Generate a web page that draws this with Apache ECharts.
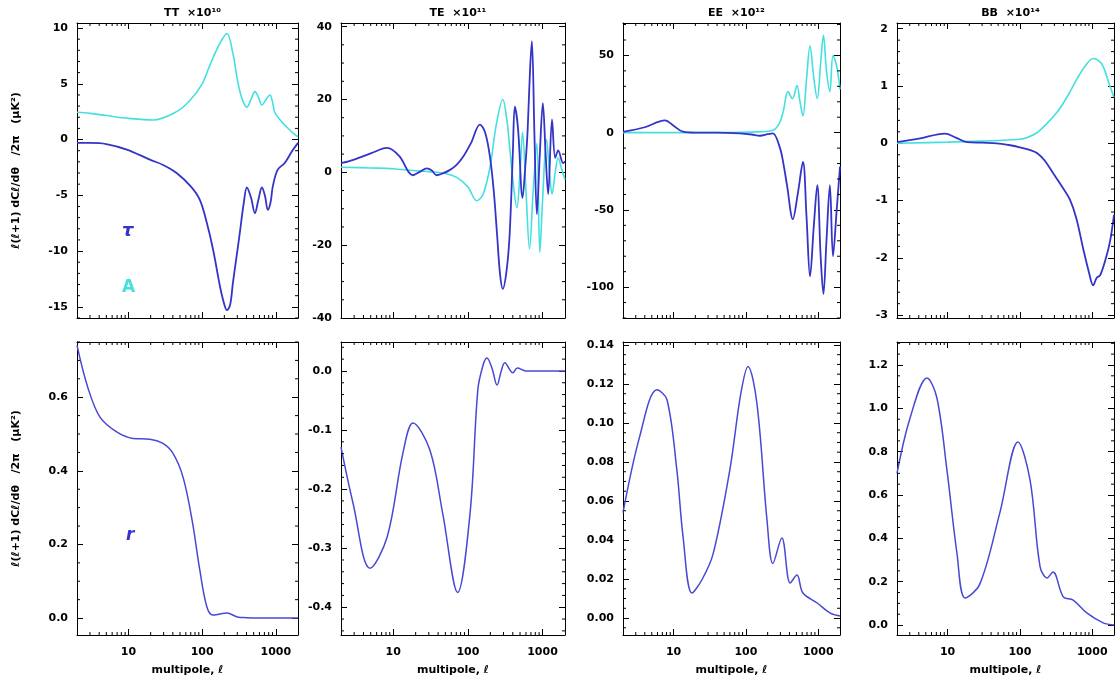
<!DOCTYPE html>
<html>
<head>
<meta charset="utf-8">
<script src="https://cdn.jsdelivr.net/npm/echarts@6/dist/echarts.min.js"></script>
<style>
html,body{margin:0;padding:0;background:#fff;}
#chart{width:1119px;height:679px;}
</style>
</head>
<body>
<div id="chart"></div>
<script>
// ---------------- DATA ----------------
const PANEL_TITLES = ['TT  \u00d710\u00b9\u2070', 'TE  \u00d710\u00b9\u00b9', 'EE  \u00d710\u00b9\u00b2', 'BB  \u00d710\u00b9\u2074'];
const X_TICKS = [10, 100, 1000];
const X_MINOR_TICKS = [3,4,5,6,7,8,9,20,30,40,50,60,70,80,90,200,300,400,500,600,700,800,900];

// Top row: tau (blue) and A (cyan) derivatives
const TT_TAU_ELL = [2,3,5,9.5,19.5,30,45,70,93,115,141,175,200,217,240,261,290,324,365,405,460,520,580,647,710,780,850,910,1060,1320,1640,2000];
const TT_TAU     = [-0.3,-0.3,-0.4,-0.9,-1.8,-2.3,-3.0,-4.2,-5.4,-7.4,-9.9,-13.2,-14.8,-15.3,-14.8,-12.9,-10.7,-8.4,-5.8,-4.3,-5.2,-6.6,-5.4,-4.3,-5.0,-6.3,-5.6,-4.2,-2.7,-2.1,-1.1,-0.3];
const TT_A_ELL   = [2,3,5,10,21.5,45,68,100,128,170,217,260,306,350,405,460,520,580,647,740,832,900,973,1200,1416,1700,2000];
const TT_A       = [2.45,2.35,2.15,1.9,1.75,2.5,3.5,5.0,6.7,8.5,9.5,7.8,5.1,3.6,2.9,3.6,4.3,3.8,3.1,3.6,4.0,3.4,2.4,1.6,1.1,0.6,0.25];

const TE_TAU_ELL = [2,3,5,8.3,12,18.4,23,28,33,38,46,57,70,86,110,145,170,198,222,246,270,294,330,363,400,426,470,540,590,630,680,720,780,840,920,1010,1100,1190,1340,1480,1620,1890,2000];
const TE_TAU     = [2.5,3.5,5.2,6.7,4.5,-0.8,0.2,1.1,0.5,-0.8,-0.3,0.6,2.0,4.2,8.0,13.1,11,4.2,-5,-17,-28,-32,-27,-17,5,18,12,-7,2,11,28,36,10,-11.5,5,19,5,-6,14.5,4,6,2.5,3];
const TE_A_ELL   = [2,5,10,18.4,30,50,71,100,132,160,198,240,294,330,363,400,453,500,540,600,670,750,840,920,1000,1130,1240,1340,1480,1620,1800,2000];
const TE_A       = [1.4,1.2,1.0,0.5,0.2,-0.3,-1.4,-4,-7.8,-6,1.4,13,20,15,7,-2,-9.7,0,11,-5,-21,-5,8,-22,-8,9,0,-6,0,4,1,-2];

const EE_TAU_ELL = [2,4,7.6,10,13.5,20,40,83,120,157,200,236,296,330,370,446,520,615,690,770,870,970,1080,1180,1300,1450,1600,1800,2000];
const EE_TAU     = [0.5,3.5,8,4.5,0.6,0,0,-0.5,-1.2,-2,-1,-0.5,-10,-20,-34,-56,-40,-19,-55,-93,-60,-34,-80,-104.5,-70,-34,-80,-50,-22];
const EE_A_ELL   = [2,10,50,150,236,290,328,382,440,508,560,615,690,770,870,970,1080,1180,1300,1450,1600,1800,2000];
const EE_A       = [0,0,0,0.5,1.5,6,13.6,26.6,22,30.5,20,11,35,56,35,22,45,63,40,26.6,50,43,28];

const BB_TAU_ELL = [2,4,9.2,13,18.6,30,48,70,100,140,172,220,287,380,490,600,750,900,1030,1150,1290,1550,1770,2000];
const BB_TAU     = [0.02,0.08,0.17,0.1,0.02,0.01,0,-0.03,-0.07,-0.12,-0.17,-0.3,-0.52,-0.75,-0.98,-1.3,-1.84,-2.25,-2.48,-2.35,-2.3,-2.0,-1.7,-1.25];
const BB_A_ELL   = [2,10,50,100,126,170,234,330,445,600,800,1030,1200,1420,1700,2000];
const BB_A       = [0.0,0.02,0.05,0.07,0.1,0.18,0.34,0.55,0.8,1.1,1.35,1.48,1.45,1.34,1.05,0.8];

// Bottom row: r derivatives
const TT_R_ELL = [2,2.8,4.1,7,11.5,19.5,29,40,55,73,93,116,140,175,217,300,400,600,1000,2000];
const TT_R     = [0.741,0.627,0.546,0.505,0.488,0.486,0.475,0.448,0.383,0.266,0.13,0.03,0.008,0.011,0.014,0.003,0.001,0,0,0];
const TE_R_ELL = [2,2.9,4.9,8.3,13.5,18.4,31,46,73,107,136,160,180,210,246,280,312,400,460,600,1000,2000];
const TE_R     = [-0.129,-0.224,-0.334,-0.281,-0.139,-0.088,-0.134,-0.241,-0.375,-0.241,-0.032,0.01,0.022,0.005,-0.024,0,0.014,-0.003,0.005,0,0,0];
const EE_R_ELL = [2,3.4,5.9,8.1,11.1,13.5,18,25,35.3,60,85,107,142,196,236,314,410,508,615,970,1450,2000];
const EE_R     = [0.054,0.093,0.117,0.112,0.076,0.042,0.0128,0.02,0.033,0.076,0.115,0.129,0.110,0.050,0.028,0.041,0.018,0.022,0.0128,0.0077,0.0026,0.001];
const BB_R_ELL = [2,3.0,5.2,7.1,9.8,13.5,17.5,28,53,94,138,190,238,287,398,545,850,1420,2000];
const BB_R     = [0.70,0.95,1.14,1.05,0.716,0.33,0.125,0.19,0.52,0.845,0.67,0.27,0.217,0.245,0.13,0.115,0.055,0.01,0.0];

// y tick labels per panel
const Y_TICKS = [
  [-15, -10, -5, 0, 5, 10],
  [-40, -20, 0, 20, 40],
  [-100, -50, 0, 50],
  [-3, -2, -1, 0, 1, 2],
  [0.0, 0.2, 0.4, 0.6],
  [-0.4, -0.3, -0.2, -0.1, 0.0],
  [0.00, 0.02, 0.04, 0.06, 0.08, 0.10, 0.12, 0.14],
  [0.0, 0.2, 0.4, 0.6, 0.8, 1.0, 1.2]
];
const Y_MIN   = [-16, -40, -120, -3.05, -0.046, -0.447, -0.0087, -0.046];
const Y_MAX   = [10.45, 41, 71, 2.1, 0.75, 0.049, 0.1415, 1.306];
const Y_MINOR = [1, 5, 10, 0.2, 0.05, 0.02, 0.005, 0.05];
const Y_DEC   = [0, 0, 0, 0, 1, 1, 2, 1];

// ---------------- LAYOUT ----------------
const LEFTS  = [77, 341, 623, 897];
const WIDTHS = [221, 224, 217, 217];
const TOPS   = [23, 342];
const HEIGHTS = [295, 293];
const BLUE = '#3434c8';
const BLUE2 = '#4848d6';
const CYAN = '#44e0e0';
const FONT = 'DejaVu Sans';

const zip = (xs, ys) => xs.map((x, i) => [x, ys[i]]);
function minorTicks(g) {
  const out = [], s = Y_MINOR[g];
  for (let k = Math.ceil(Y_MIN[g] / s); k * s <= Y_MAX[g] + 1e-12; k++) {
    const v = +(k * s).toFixed(6);
    if (!Y_TICKS[g].some(t => Math.abs(t - v) < s * 1e-3)) out.push(v);
  }
  return out;
}

const grids = [], xAxes = [], yAxes = [], series = [];
for (let g = 0; g < 8; g++) {
  const col = g % 4, row = Math.floor(g / 4);
  grids.push({left: LEFTS[col], top: TOPS[row], width: WIDTHS[col], height: HEIGHTS[row], show: false, containLabel: false});
}
const axisLine = {show: true, onZero: false, lineStyle: {color: '#000', width: 1}};
const labelFont = {color: '#000', fontFamily: FONT, fontWeight: 'bold', fontSize: 11};
for (let side = 0; side < 2; side++) {
  for (let g = 0; g < 8; g++) {
    const row = Math.floor(g / 4);
    const showLab = side === 0 && row === 1;
    xAxes.push({
      type: 'log', logBase: 10, gridIndex: g, min: 2, max: 2000, position: side === 0 ? 'bottom' : 'top',
      axisLine, splitLine: {show: false},
      axisTick: {show: true, inside: true, length: 6, customValues: X_TICKS, lineStyle: {color: '#000'}},
      axisLabel: Object.assign({show: showLab, margin: 12, customValues: X_TICKS, formatter: v => String(Math.round(v))}, labelFont),
      name: showLab ? 'multipole, \u2113' : '', nameLocation: 'middle', nameGap: 30,
      nameTextStyle: labelFont
    });
  }
}
for (let side = 0; side < 2; side++) {
  for (let g = 0; g < 8; g++) {
    const dec = Y_DEC[g];
    yAxes.push({
      type: 'value', gridIndex: g, min: Y_MIN[g], max: Y_MAX[g], position: side === 0 ? 'left' : 'right',
      axisLine, splitLine: {show: false},
      axisTick: {show: true, inside: true, length: 6, customValues: Y_TICKS[g], lineStyle: {color: '#000'}},
      axisLabel: Object.assign({show: side === 0, margin: 9, customValues: Y_TICKS[g], formatter: v => v.toFixed(dec)}, labelFont),
      name: (side === 0 && g % 4 === 0) ? '\u2113(\u2113+1) dC\u2113/d\u03b8   /2\u03c0   (\u03bcK\u00b2)' : '',
      nameLocation: 'middle', nameGap: 55, nameRotate: 90,
      nameTextStyle: labelFont
    });
  }
}

function line(g, xs, ys, color, width) {
  series.push({type: 'line', xAxisIndex: g, yAxisIndex: g, data: zip(xs, ys), showSymbol: false, symbol: 'none',
    smooth: 0.35, lineStyle: {color, width}, z: 3, clip: true});
}
line(0, TT_A_ELL, TT_A, CYAN, 1.6);
line(0, TT_TAU_ELL, TT_TAU, BLUE, 1.8);
line(1, TE_A_ELL, TE_A, CYAN, 1.6);
line(1, TE_TAU_ELL, TE_TAU, BLUE, 1.8);
line(2, EE_A_ELL, EE_A, CYAN, 1.6);
line(2, EE_TAU_ELL, EE_TAU, BLUE, 1.8);
line(3, BB_A_ELL, BB_A, CYAN, 1.6);
line(3, BB_TAU_ELL, BB_TAU, BLUE, 1.8);
line(4, TT_R_ELL, TT_R, BLUE2, 1.5);
line(5, TE_R_ELL, TE_R, BLUE2, 1.5);
line(6, EE_R_ELL, EE_R, BLUE2, 1.5);
line(7, BB_R_ELL, BB_R, BLUE2, 1.5);

// minor ticks: log x minor ticks (top & bottom edges) and y minor ticks (left & right edges)
for (let g = 0; g < 8; g++) {
  const data = X_MINOR_TICKS.map(v => [v, Y_MIN[g], 0]).concat(minorTicks(g).map(v => [10, v, 1]));
  series.push({
    type: 'custom', xAxisIndex: g, yAxisIndex: g, silent: true, z: 10, clip: false,
    data, encode: {x: 0, y: 1},
    renderItem: (params, api) => {
      const cs = params.coordSys;
      const p = api.coord([api.value(0), api.value(1)]);
      const st = {stroke: '#000', lineWidth: 1};
      if (api.value(2) === 0) {
        return {type: 'group', children: [
          {type: 'line', shape: {x1: p[0], y1: cs.y + cs.height, x2: p[0], y2: cs.y + cs.height - 3}, style: st},
          {type: 'line', shape: {x1: p[0], y1: cs.y, x2: p[0], y2: cs.y + 3}, style: st}
        ]};
      }
      return {type: 'group', children: [
        {type: 'line', shape: {x1: cs.x, y1: p[1], x2: cs.x + 3, y2: p[1]}, style: st},
        {type: 'line', shape: {x1: cs.x + cs.width, y1: p[1], x2: cs.x + cs.width - 3, y2: p[1]}, style: st}
      ]};
    }
  });
}

const titles = PANEL_TITLES.map((t, i) => ({
  text: t, left: LEFTS[i] + WIDTHS[i] / 2, top: 3, textAlign: 'center',
  textStyle: {color: '#000', fontFamily: FONT, fontWeight: 'bold', fontSize: 11}
}));

const chart = echarts.init(document.getElementById('chart'), null, {renderer: 'canvas'});
chart.setOption({
  animation: false,
  backgroundColor: '#fff',
  title: titles,
  grid: grids, xAxis: xAxes, yAxis: yAxes, series,
  graphic: [
    {type: 'text', left: 122, top: 222, style: {text: '\u03c4', fill: BLUE, font: 'italic bold 18px ' + FONT}},
    {type: 'text', left: 122, top: 279, style: {text: 'A', fill: CYAN, font: 'bold 17px ' + FONT}},
    {type: 'text', left: 126, top: 527, style: {text: 'r', fill: BLUE, font: 'italic bold 17px ' + FONT}}
  ]
});
</script>
</body>
</html>
